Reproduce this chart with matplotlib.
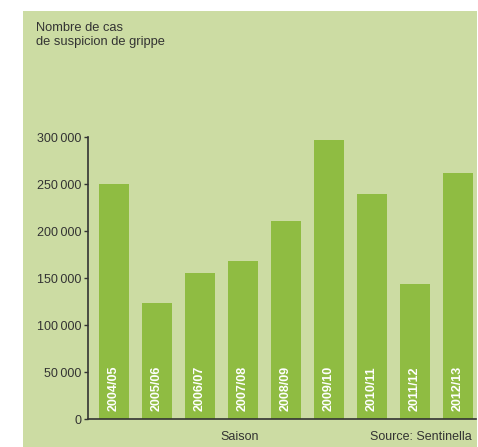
import numpy as np
import matplotlib
matplotlib.use('Agg')
import matplotlib.pyplot as plt
from matplotlib.patches import Rectangle
from matplotlib.ticker import FuncFormatter

plt.rcParams['font.family'] = ['Liberation Sans', 'DejaVu Sans']

seasons = ['2004/05', '2005/06', '2006/07', '2007/08', '2008/09',
           '2009/10', '2010/11', '2011/12', '2012/13']
cases = [250000, 124000, 155500, 168500, 211000, 297000, 240000, 144000, 262000]
y_ticks = [0, 50000, 100000, 150000, 200000, 250000, 300000]

bg_color = '#ccdca3'
bar_color = '#8fbc42'
text_color = '#333333'

W, H = 478, 447
fig = plt.figure(figsize=(W / 100, H / 100), dpi=100)
fig.patch.set_facecolor('white')

# green panel behind everything
fig.add_artist(Rectangle((23 / W, 0), (477 - 23) / W, (H - 11) / H,
                         transform=fig.transFigure, facecolor=bg_color,
                         edgecolor='none', zorder=-5))

ax = fig.add_axes([87.7 / W, 27.7 / H, (476 - 87.7) / W, (419.3 - 137.3) / H])
ax.set_facecolor('none')
ax.set_zorder(2)

x = np.arange(len(seasons))
ax.bar(x, cases, width=0.70, color=bar_color, zorder=2)

for xi, s in zip(x, seasons):
    ax.text(xi, 9000, s, rotation=90, ha='center', va='bottom',
            color='white', fontsize=9, fontweight='bold', zorder=3)

ax.set_xlim(-0.61, 8.42)
ax.set_ylim(0, 300000)
ax.set_xticks([])
ax.set_yticks(y_ticks)
ax.yaxis.set_major_formatter(FuncFormatter(lambda v, p: f'{int(v):,}'.replace(',', '\u2009')))
ax.tick_params(axis='y', length=3, width=1, color=text_color, labelsize=9,
               labelcolor=text_color, pad=1.5)

for side in ['top', 'right']:
    ax.spines[side].set_visible(False)
for side in ['left', 'bottom']:
    ax.spines[side].set_color('#333333')
    ax.spines[side].set_linewidth(1.2)

fig.text(36 / W, 1 - 22 / H, 'Nombre de cas\nde suspicion de grippe',
         ha='left', va='top', fontsize=9.3, color=text_color, linespacing=1.25)
fig.text(240 / W, 1 - 437 / H, 'Saison', ha='center', va='center',
         fontsize=9, color=text_color)
fig.text(472 / W, 1 - 437 / H, 'Source: Sentinella', ha='right', va='center',
         fontsize=9, color=text_color)

fig.savefig('out.png', dpi=100)
